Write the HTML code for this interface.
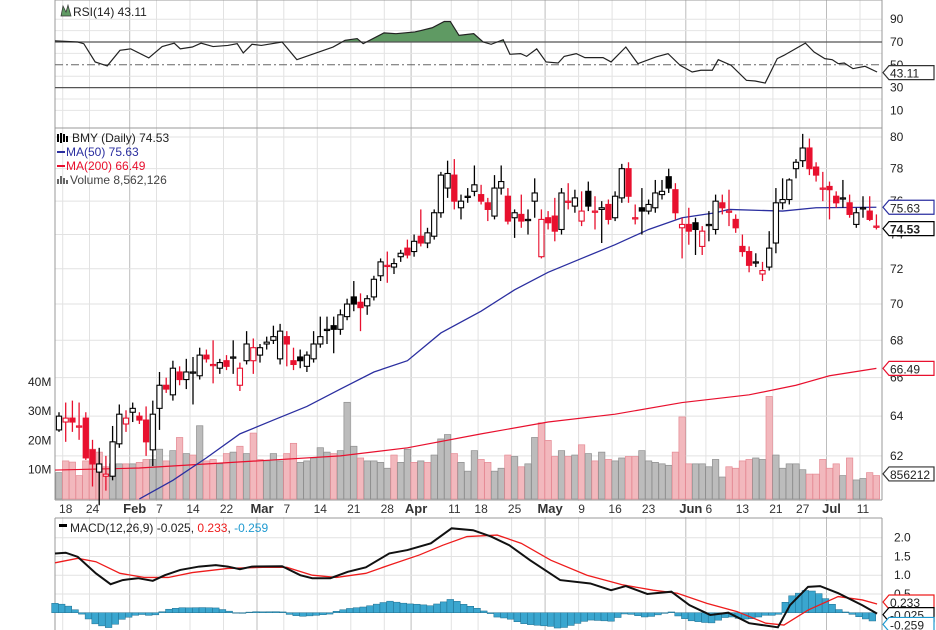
<!DOCTYPE html>
<html><head><meta charset="utf-8"><style>
html,body{margin:0;padding:0;background:#fff;}
svg{display:block;font-family:"Liberation Sans",sans-serif;}
</style></head><body>
<svg id="c" width="936" height="630" viewBox="0 0 936 630" xmlns="http://www.w3.org/2000/svg"></svg>
<script>
// ===== DATA =====
const opens  = [63.3,63.7,63.9,63.5,63.9,62.3,61.2,61.0,61.0,62.6,63.6,64.2,64.0,63.8,62.3,64.4,65.6,65.1,66.3,65.9,66.3,66.1,67.2,66.7,66.5,66.9,67.1,65.6,66.9,66.9,67.2,67.8,68.0,67.0,68.2,66.9,67.1,66.6,67.0,67.8,68.6,68.8,68.6,69.3,70.4,70.1,69.9,70.4,71.6,72.2,72.1,72.7,73.2,73.0,73.9,73.5,73.9,75.3,76.8,77.6,75.6,76.3,76.6,76.4,75.9,75.1,76.8,76.3,75.0,75.2,74.9,76.0,72.7,75.0,75.1,74.3,76.0,75.7,74.8,76.6,75.4,75.5,75.8,75.0,76.2,78.0,75.0,75.6,75.4,75.6,76.4,77.5,76.7,74.4,74.6,74.7,73.3,74.6,74.3,75.9,75.4,74.9,73.3,73.0,72.4,71.7,72.1,73.5,75.9,76.1,78.0,78.5,79.3,78.1,76.8,76.9,76.3,76.2,75.9,74.6,75.6,75.4,74.5];
const highs  = [64.2,64.7,64.8,64.7,64.2,62.8,62.4,62.0,63.5,64.6,64.3,64.7,64.2,64.5,64.8,66.3,66.0,66.9,66.6,67.0,67.1,67.6,67.5,68.0,67.0,67.2,68.0,66.8,68.5,68.1,67.8,68.2,68.8,68.9,68.5,67.6,67.5,67.4,68.5,69.3,69.3,69.3,69.7,70.3,71.3,70.6,70.5,71.6,72.6,73.0,72.6,73.1,73.7,74.0,75.5,74.4,75.5,77.8,78.5,78.6,76.4,76.8,78.2,77.0,76.2,77.6,78.2,76.8,75.5,76.4,75.5,77.4,75.5,75.4,76.2,76.8,77.1,76.7,76.6,77.2,76.3,76.0,76.1,76.6,78.3,78.4,75.8,76.8,76.1,77.3,77.3,78.0,77.1,75.0,75.6,75.0,74.5,75.4,76.4,76.4,76.7,75.2,74.0,73.3,72.9,72.4,74.2,76.8,77.4,77.4,78.6,80.2,79.9,78.4,77.8,77.2,76.6,77.3,76.4,75.6,76.3,76.3,75.2];
const lows   = [63.2,62.7,63.2,62.8,61.8,60.5,59.6,60.3,60.8,62.4,63.2,63.7,63.6,62.0,61.5,63.3,65.2,64.8,65.6,65.4,64.6,65.9,66.8,65.7,66.2,66.4,66.2,65.3,66.7,66.2,66.8,67.5,67.8,66.7,66.6,66.4,66.5,66.3,66.8,67.6,67.8,67.3,68.3,69.1,69.6,68.5,69.4,70.2,71.3,71.2,71.7,72.4,72.6,72.7,73.3,73.2,73.7,75.0,76.2,75.5,74.9,75.9,76.3,75.8,74.8,74.9,76.4,74.6,73.8,74.4,74.0,75.0,72.6,74.3,73.6,74.0,75.5,75.3,74.5,75.4,74.3,73.5,74.6,74.8,75.9,75.9,74.6,74.0,75.2,75.3,76.1,76.5,74.9,72.6,73.4,72.8,72.8,73.6,74.0,75.2,74.5,74.1,72.7,71.8,72.1,71.3,71.9,72.9,75.5,75.8,77.4,78.1,77.6,77.2,76.0,74.9,75.6,75.6,75.0,74.4,75.0,74.8,74.3];
const closes = [64.0,63.9,63.7,63.5,61.9,61.6,61.6,61.1,62.7,64.1,63.9,64.4,63.8,62.7,64.1,65.6,65.4,66.5,65.9,66.3,66.3,67.2,67.0,66.7,66.8,66.6,67.1,66.5,67.8,67.6,67.6,67.9,68.2,68.5,67.8,66.7,66.9,67.2,67.8,68.2,68.6,68.6,69.4,70.0,70.0,69.8,70.3,71.4,72.4,72.2,72.3,72.9,72.8,73.6,73.5,74.1,75.3,77.6,77.7,76.0,76.0,76.3,77.0,76.0,75.5,76.8,77.2,74.8,75.3,74.8,74.9,76.5,74.9,74.7,74.2,76.5,76.0,76.2,75.4,75.7,75.4,75.6,74.9,76.3,78.0,76.3,75.0,75.4,75.8,76.5,76.6,76.8,75.3,74.6,74.2,74.3,74.2,74.6,76.0,75.6,75.4,74.4,73.0,72.2,72.4,71.9,73.2,75.9,76.1,77.3,78.4,79.3,78.0,77.6,76.8,76.7,75.9,76.2,75.2,75.3,75.6,74.9,74.5];
const volumes = [9,13,12.6,8,13,17,16,11,12,12,12,12,12.5,13.5,13.5,17,13,16.5,21,15.5,15,25,13,13.5,12,15.5,16,18,15.5,22.5,13.5,13,15.5,13,15.5,19,12.5,13,14,17.5,16,15.5,16.5,33,18,14,13,13,12.5,10.5,15,12.5,17,12.5,13,12.5,15,20.5,22,15.5,12.5,9.5,16.5,13.5,12.5,9.5,10.5,15,14.5,11,12,21,26,20,14.5,16.5,14.5,15,18.5,15.5,13,16,13.5,13,14,14.5,14.5,16.5,13,12.5,12,11.5,16,28,12,12,12,11,13.5,7.5,11,10.5,13,13.5,14,13.5,35,15,10.5,12,12,10,8.5,8.5,13.5,10.5,12,8,14,6.5,7,9,8];
const volDown = [0,1,1,1,1,1,1,1,0,0,1,0,1,1,0,0,1,0,1,0,1,0,1,1,0,1,0,1,0,1,1,0,0,0,1,1,0,0,0,0,0,1,0,0,0,1,0,0,0,0,1,0,0,1,0,1,0,0,0,1,0,0,0,1,1,0,0,1,0,1,0,0,1,1,1,0,1,0,1,0,1,0,1,0,0,1,1,0,0,0,0,0,1,1,1,0,0,0,0,0,1,1,1,1,0,0,1,0,0,0,0,0,1,1,1,1,1,0,1,0,0,1,1];
const ma50Idx = [12,17,22,27,32,37,42,47,52,57,63,68,73,78,83,88,93,98,100,108,113,122];
const ma50Val = [59.9,60.8,61.9,63.1,63.8,64.5,65.4,66.3,66.9,68.4,69.6,70.8,71.8,72.6,73.4,74.3,75.0,75.3,75.5,75.4,75.6,75.63];
const ma200Idx = [-0.6,12,32,42,52,63,73,83,93,103,110,115,122];
const ma200Val = [61.3,61.4,61.8,62.0,62.4,63.1,63.7,64.1,64.7,65.1,65.6,66.1,66.49];
const rsiIdx = [-0.6,2.8,3.7,5.4,7.2,9.1,10.7,13.4,15.4,17.2,18.1,19.9,21.2,23,25.2,26.6,27.5,28.8,30.2,33.3,35.5,40.9,41.8,42.7,44.5,45.4,48.5,50.3,53.1,54,55.7,57.5,58.4,59.7,61.9,63.3,64.5,66.3,67.3,68.9,69.8,71.3,72.7,74.5,75.4,77.2,78.5,81.2,82.4,84.6,86.4,89.1,90.9,92.7,94.5,95.8,97.5,98.4,100.3,102.6,103.9,105.4,107.2,108.2,111.4,112.7,114.3,115.4,116.3,117.2,118.5,120.3,122.1];
const rsiVal = [71,70,68.5,52.5,49,62.7,64,56,66,69,64,65.6,69,66,67,68.5,60.4,68,67,70,54.5,65.6,68.5,71.5,73,68.5,78,77.3,78.8,80,82.5,88,88,75.8,77.3,70,68,72,59.2,59.8,57.4,64,52.5,51.6,57.4,59.8,56.3,56.3,52.5,65.6,51,56.9,59.8,49.6,43.7,45.2,45.2,54.5,49.6,36.4,35.8,34,55.4,58.3,69,61.2,55.4,54.5,51,51.6,46.6,48.7,43.7];
const macdIdx = [-0.6,1,2.8,5.5,7.7,9.5,11.8,14,15.8,18.1,20.9,23.4,25.2,27,28.8,33.3,36,37.8,40.5,43.1,45.8,49.3,52,55.5,58.6,61.8,64.5,67.2,70.3,74.8,79.3,82.4,84.6,87.8,91.4,94.1,97.2,99.9,103,107.3,109.1,111.8,113.6,116.3,119.9,122.1];
const macdVal = [1.58,1.6,1.49,1.05,0.76,0.87,0.92,0.85,1.0,1.14,1.23,1.27,1.23,1.16,1.23,1.24,1.0,0.92,0.92,1.09,1.21,1.58,1.67,1.85,2.25,2.2,2.03,1.8,1.4,0.87,0.78,0.6,0.71,0.5,0.56,0.2,-0.06,0,-0.28,-0.39,0.2,0.69,0.71,0.52,0.2,-0.025];
const sigIdx = [-0.6,2.8,5.5,9.1,12.7,16.3,19.9,25.2,30.4,34,37.8,41.4,45.8,49.3,53.8,57.3,60.9,65.4,69,73.4,78.8,84.2,88.7,92.3,96.7,101.2,105.5,108.2,111.8,116.3,119.9,122.1];
const sigVal = [1.33,1.45,1.36,1.05,0.94,0.94,1.07,1.18,1.21,1.21,1.0,0.94,1.05,1.27,1.54,1.8,2.03,2.07,1.85,1.4,1.0,0.74,0.6,0.52,0.25,0.03,-0.28,-0.33,0.07,0.43,0.34,0.233];
const priceTicks = [80,78,76,74,72,70,68,66,64,62];
const rsiTicks = [90,70,50,30,10];
const macdTicks = [2.0,1.5,1.0,0.5];
const volTicks = [10,20,30,40];
const dateIdx = [1,5,11,15,20,25,30,34,39,44,49,53,59,63,68,73,78,83,88,94,97,102,107,111,115,120];
const dateLbl = ["18","24","Feb","7","14","22","Mar","7","14","21","28","Apr","11","18","25","May","9","16","23","Jun","6","13","21","27","Jul","11"];

// ===== SCALES =====
const L=55, R=882;
const X = i => 59 + 6.7*i;
const YP = p => 137 - 1251*Math.log(p/80);
const YR = v => 42 + (70-v)*1.14;
const YM = v => 612.7 - 37.5*v;
const YV = m => 499 - 2.93*m;
const NS="http://www.w3.org/2000/svg";
const svg=document.getElementById('c');
function mk(tag,attrs,parent){const e=document.createElementNS(NS,tag);for(const k in attrs)e.setAttribute(k,attrs[k]);(parent||svg).appendChild(e);return e;}
function txt(s,x,y,attrs,parent){const e=mk('text',Object.assign({x:x,y:y,'font-size':12,fill:'#222'},attrs||{}),parent);e.textContent=s;return e;}
function interp(idx,val,i){if(i<=idx[0])return val[0];for(let k=1;k<idx.length;k++){if(i<=idx[k]){const t=(i-idx[k-1])/(idx[k]-idx[k-1]);return val[k-1]+t*(val[k]-val[k-1]);}}return val[val.length-1];}

// ===== GRID =====
const grid=mk('g',{});


const monthSet=new Set(["Feb","Mar","Apr","May","Jun","Jul"]);
dateIdx.forEach((d,k)=>{
  const x=X(d)-3;
  const l=mk('line',{x1:x,x2:x,y1:0,y2:630,stroke:monthSet.has(dateLbl[k])?'#bdbdbd':'#e2e2e2','stroke-width':1},grid);
  
  
});
[90,80,60,40,20,10].forEach(v=>{mk('line',{x1:L,x2:R,y1:YR(v),y2:YR(v),stroke:'#e4e4e4'},grid);});
priceTicks.forEach(p=>{mk('line',{x1:L,x2:R,y1:YP(p),y2:YP(p),stroke:'#e2e2e2'},grid);});
macdTicks.forEach(v=>{mk('line',{x1:L,x2:R,y1:YM(v),y2:YM(v),stroke:'#e2e2e2'},grid);});
// panel borders
mk('rect',{x:L,y:0,width:R-L,height:128,fill:'none',stroke:'#999'},grid);
mk('line',{x1:L,x2:L,y1:128,y2:500,stroke:'#999'},grid);
mk('line',{x1:R,x2:R,y1:128,y2:500,stroke:'#999'},grid);
mk('line',{x1:L,x2:R,y1:500,y2:500,stroke:'#999'},grid);
mk('line',{x1:L,x2:R,y1:518,y2:518,stroke:'#999'},grid);
mk('line',{x1:L,x2:L,y1:518,y2:630,stroke:'#999'},grid);
mk('line',{x1:R,x2:R,y1:518,y2:630,stroke:'#999'},grid);
mk('rect',{x:L+1,y:501,width:R-L-2,height:16,fill:'#fff'},grid);

// ===== RSI =====
const rsiG=mk('g',{});


// fill above 70
let fillPts=[];
for(let x=L;x<=X(122);x+=1){const i=(x-59)/6.7;const v=interp(rsiIdx,rsiVal,i);fillPts.push([x,Math.min(YR(v),YR(70))]);}
const fp='M'+fillPts.map(p=>p[0]+','+p[1]).join('L')+'L'+X(122)+','+YR(70)+'L'+L+','+YR(70)+'Z';
const rf=mk('path',{d:fp,fill:'#5f9a63',stroke:'none'},rsiG);


mk('line',{x1:L,x2:R,y1:YR(70),y2:YR(70),stroke:'#555','stroke-width':1.3},rsiG);
mk('line',{x1:L,x2:R,y1:YR(30),y2:YR(30),stroke:'#555','stroke-width':1.3},rsiG);
mk('line',{x1:L,x2:R,y1:YR(50),y2:YR(50),stroke:'#666','stroke-dasharray':'8,3,2,3'},rsiG);
const rl=mk('polyline',{points:rsiIdx.map((d,k)=>X(d)+','+YR(rsiVal[k])).join(' '),fill:'none',stroke:'#222','stroke-width':1.2},rsiG);


rsiTicks.forEach(v=>{const t=txt(String(v),890,YR(v)+4,{'font-size':12},rsiG);});
const rsiLeg=txt('RSI(14) 43.11',73,16,{'font-size':12},rsiG);


mk('path',{d:'M61,16 L63,6 L66,12 L68,5 L71,16 Z',fill:'#5f9a63',stroke:'#333','stroke-width':0.7},rsiG);

// ===== VOLUME =====
const volG=mk('g',{});


volumes.forEach((m,i)=>{
  const b=mk('rect',{x:X(i)-3.2,y:YV(m),width:6.4,height:499-YV(m),fill:volDown[i]?'#f2b8bd':'#bcbcbc',stroke:volDown[i]?'#e58a94':'#8e8e8e','stroke-width':0.7},volG);
  
  
});
volTicks.forEach(v=>{const t=txt(v+'M',28,YV(v)+4,{'font-size':12},volG);});

// ===== MOVING AVERAGES =====
const m2=mk('polyline',{points:ma200Idx.map((d,k)=>Math.max(L,X(d))+','+YP(ma200Val[k])).join(' '),fill:'none',stroke:'#e8102e','stroke-width':1.2});


const m5=mk('polyline',{points:ma50Idx.map((d,k)=>X(d)+','+YP(ma50Val[k])).join(' '),fill:'none',stroke:'#2b2fa0','stroke-width':1.3});



// ===== CANDLES =====
const cg=mk('g',{});


closes.forEach((c,i)=>{
  const o=opens[i], prev=i>0?closes[i-1]:o;
  const col = c<prev ? '#e8102e' : '#000';
  const x=X(i);
  const g=mk('g',{},cg);
  
  
  mk('line',{x1:x,x2:x,y1:YP(highs[i]),y2:YP(lows[i]),stroke:col,'stroke-width':1.3},g);
  const top=YP(Math.max(o,c)), bot=YP(Math.min(o,c));
  const h=Math.max(1.2,bot-top);
  mk('rect',{x:x-2.6,y:top,width:5.2,height:h,fill:c>=o?'#fff':col,stroke:col,'stroke-width':1.1},g);
});

// price ticks
priceTicks.forEach(p=>{const t=txt(String(p),890,YP(p)+4,{'font-size':12});});

// ===== LEGEND =====
const lg=mk('g',{});


mk('path',{d:'M58,134v8M61,133v10M64,134v8M67,136v6',stroke:'#000','stroke-width':2},lg);
txt('BMY (Daily) 74.53',72,142,{'font-size':12},lg);
mk('rect',{x:57,y:151,width:8,height:2,fill:'#2b2fa0'},lg);
txt('MA(50) 75.63',66,156,{'font-size':12,fill:'#2b2fa0'},lg);
mk('rect',{x:57,y:165,width:8,height:2,fill:'#e8102e'},lg);
txt('MA(200) 66.49',66,170,{'font-size':12,fill:'#e8102e'},lg);
mk('path',{d:'M58,184v-5M61,184v-8M64,184v-6M67,184v-4',stroke:'#666','stroke-width':2},lg);
txt('Volume 8,562,126',70,184,{'font-size':12,fill:'#444'},lg);

// ===== X AXIS LABELS =====
dateIdx.forEach((d,k)=>{
  const isM=monthSet.has(dateLbl[k]);
  const t=txt(dateLbl[k],X(d)+(isM?2:0),513,{'font-size':isM?13:12,'font-weight':isM?'bold':'normal','text-anchor':'middle',fill:'#333'});
  
  
});

// ===== MACD =====
const mg=mk('g',{});


for(let i=-0.6;i<=122.2;i+=1){
  const hv=interp(macdIdx,macdVal,i)-interp(sigIdx,sigVal,i);
  const y0=YM(0), y1=YM(hv);
  const b=mk('rect',{x:X(i)-3.35,y:Math.min(y0,y1),width:6.7,height:Math.max(0.5,Math.abs(y1-y0)),fill:'#3aa6cf',stroke:'#1f6f90','stroke-width':0.5},mg);
  
  
}
const sl=mk('polyline',{points:sigIdx.map((d,k)=>Math.max(L,X(d))+','+YM(sigVal[k])).join(' '),fill:'none',stroke:'#ee1c1c','stroke-width':1.3},mg);


const ml=mk('polyline',{points:macdIdx.map((d,k)=>Math.max(L,X(d))+','+YM(macdVal[k])).join(' '),fill:'none',stroke:'#111','stroke-width':2},mg);


macdTicks.forEach(v=>{const t=txt(v.toFixed(1),894,YM(v)+4,{'font-size':12},mg);});
mk('rect',{x:L+1,y:519,width:R-L-2,height:0,fill:'#fff'},mg);
const ml1=txt('',60,532,{'font-size':12},mg);


mk('rect',{x:59,y:524,width:8,height:3,fill:'#000'},mg);
[['MACD(12,26,9) -0.025','#222'],[', ','#222'],['0.233','#ee1c1c'],[', ','#222'],['-0.259','#1f9ad0']].forEach(([s,c])=>{const ts=mk('tspan',{fill:c},ml1);ts.textContent=s;});
ml1.setAttribute('x',70);

// ===== VALUE TAGS =====
function tag(s,y,stroke,bold,name){
  const g=mk('g',{});
  
  
  mk('path',{d:`M${R+1},${y} L${R+7},${y-7} H934 V${y+7} H${R+7} Z`,fill:'#fff',stroke:stroke,'stroke-width':1.2},g);
  txt(s,R+8,y+5,{'font-size':12,'font-weight':bold?'bold':'normal',fill:'#222'},g);
}
tag('43.11',YR(43.11),'#333',false,'rsi-value-tag');
tag('75.63',YP(75.63),'#2b2fa0',false,'ma50-value-tag');
tag('74.53',YP(74.53)+3,'#000',true,'price-value-tag');
tag('66.49',YP(66.49),'#e8102e',false,'ma200-value-tag');
tag('856212',YV(8.56),'#333',false,'volume-value-tag');
tag('0.233',YM(0.233)-2,'#ee1c1c',false,'macd-signal-tag');
tag('-0.025',YM(-0.025)+1,'#000',false,'macd-value-tag');
tag('-0.259',YM(-0.259)+2,'#1f9ad0',false,'macd-hist-tag');
</script>
</body></html>
